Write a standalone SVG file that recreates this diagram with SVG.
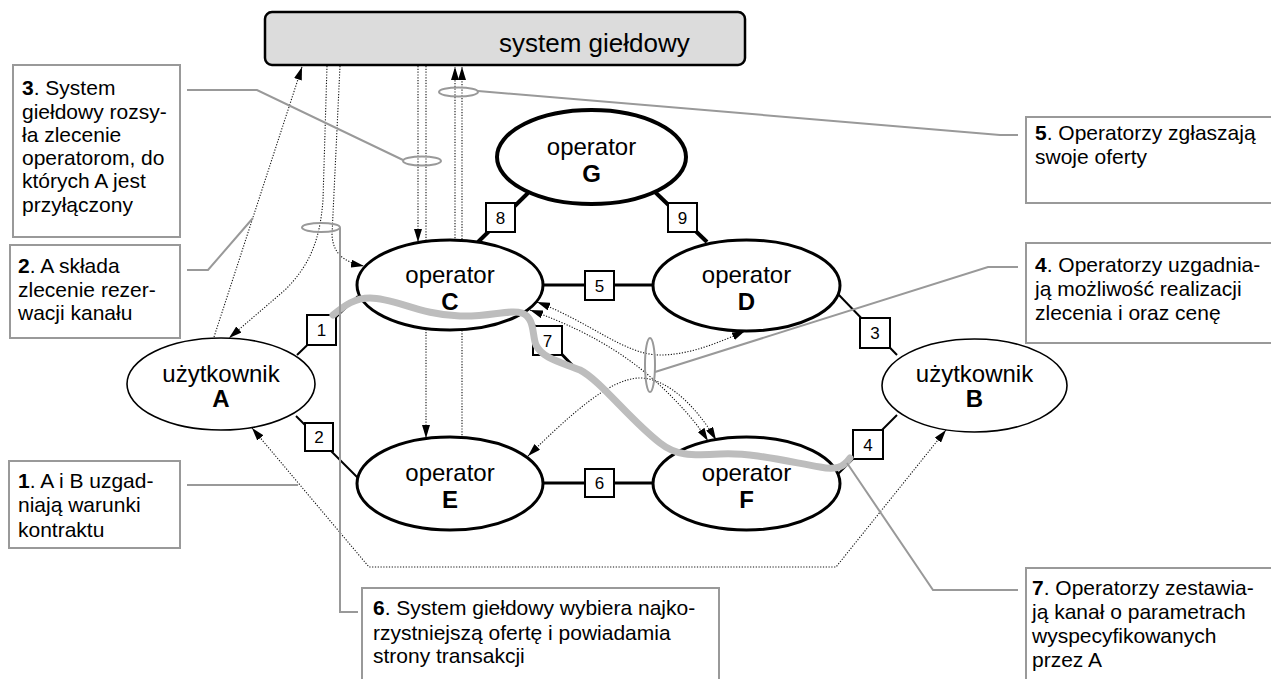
<svg xmlns="http://www.w3.org/2000/svg" width="1271" height="679" viewBox="0 0 1271 679">
  <defs>
    <marker id="ah" viewBox="0 0 13 8" refX="13" refY="4" markerWidth="13" markerHeight="8" markerUnits="userSpaceOnUse" orient="auto-start-reverse">
      <path d="M0,0 L13,4 L0,8 z" fill="#000"/>
    </marker>
    <style>
      .dot { fill: none; stroke: #111; stroke-width: 1.1; stroke-dasharray: 1.2 1.6; }
      .edge { stroke: #000; fill: none; }
      .thin { stroke-width: 2; }
      .mid { stroke-width: 3; }
      .thick { stroke-width: 4; }
      .lbl { fill: #fff; stroke: #000; stroke-width: 2; }
      .num { font-family: "Liberation Sans Narrow", "Liberation Sans", Arial, sans-serif; font-size: 17px; text-anchor: middle; fill: #000; }
      .node { fill: #fff; stroke: #000; }
      .ntxt { font-family: "Liberation Sans", Arial, sans-serif; font-size: 24px; text-anchor: middle; fill: #000; }
      .b { font-weight: bold; }
      .call { fill: none; stroke: #999; stroke-width: 2; }
      .cbox { fill: #fff; stroke: #999; stroke-width: 2; }
      .ctxt { font-family: "Liberation Sans", Arial, sans-serif; font-size: 21px; fill: #000; }
      .channel { fill: none; stroke: #bdbdbd; stroke-width: 7; stroke-linecap: round; stroke-linejoin: round; }
    </style>
  </defs>

  <rect width="1271" height="679" fill="#fff"/>

  <!-- exchange system bar -->
  <g id="system">
    <rect x="265" y="12" width="480" height="53" rx="7" fill="#dcdcdc" stroke="#000" stroke-width="2.5"/>
    <text x="499" y="52" font-family="Liberation Sans, Arial, sans-serif" font-size="26">system giełdowy</text>
  </g>

  <!-- connectors: signalling (dotted) and links (solid) -->
  <g id="connectors">
    <!-- 2: order from A to the system -->
    <path class="dot" d="M214,337 L302,67" marker-end="url(#ah)"/>
    <!-- 3: system broadcasts -->
    <path class="dot" d="M327,66 L323,200 C320,240 310,265 285,290 L229,338" marker-end="url(#ah)"/>
    <path class="dot" d="M340,66 L332,235 C333,252 342,262 364,266" marker-end="url(#ah)"/>
    <path class="dot" d="M418,66 L418,242" marker-end="url(#ah)"/>
    <path class="dot" d="M426,66 L426,438" marker-end="url(#ah)"/>
    <!-- 5: offers back to the system -->
    <path class="dot" d="M455,241 L455,67" marker-end="url(#ah)"/>
    <path class="dot" d="M462,438 L462,67" marker-end="url(#ah)"/>
    <!-- 4: operators negotiate -->
    <path class="dot" d="M537,302 C590,322 625,355 660,355 C690,355 720,342 745,331" marker-start="url(#ah)" marker-end="url(#ah)"/>
    <path class="dot" d="M530,310 C600,335 640,365 670,395 C685,410 698,425 708,441" marker-start="url(#ah)" marker-end="url(#ah)"/>
    <path class="dot" d="M528,456 C570,415 610,378 640,378 C670,378 700,412 716,440" marker-start="url(#ah)" marker-end="url(#ah)"/>
    <!-- 1: contract between A and B -->
    <path class="dot" d="M252,428 L369,567 L836,567 L946,430" marker-start="url(#ah)" marker-end="url(#ah)"/>

    <!-- physical links -->
    <line class="edge thin" x1="297" y1="355" x2="358" y2="296"/>
    <line class="edge thin" x1="296" y1="416" x2="358" y2="478"/>
    <line class="edge thin" x1="838" y1="294" x2="897" y2="355"/>
    <line class="edge thin" x1="897" y1="415" x2="837" y2="475"/>
    <line class="edge mid" x1="543" y1="285" x2="653" y2="285"/>
    <line class="edge mid" x1="543" y1="483" x2="653" y2="483"/>
    <line class="edge thick" x1="528" y1="193" x2="478" y2="242"/>
    <line class="edge thick" x1="655" y1="192" x2="707" y2="242"/>
    <line class="edge mid" x1="522" y1="313" x2="575" y2="368"/>

    <!-- link labels -->
    <rect class="lbl" x="307" y="315" width="29" height="30"/><text class="num" x="321.5" y="336">1</text>
    <rect class="lbl" x="305" y="423" width="28" height="28"/><text class="num" x="319" y="443">2</text>
    <rect class="lbl" x="860" y="318" width="30" height="30"/><text class="num" x="875" y="339">3</text>
    <rect class="lbl" x="853" y="430" width="30" height="29"/><text class="num" x="868" y="450.5">4</text>
    <rect class="lbl" x="585" y="271" width="29" height="29"/><text class="num" x="599.5" y="291.5">5</text>
    <rect class="lbl" x="585" y="469" width="29" height="28"/><text class="num" x="599.5" y="489">6</text>
    <rect class="lbl" x="533" y="326" width="29" height="29"/><text class="num" x="547.5" y="346.5">7</text>
    <rect class="lbl" x="486" y="203" width="29" height="29"/><text class="num" x="500.5" y="223.5">8</text>
    <rect class="lbl" x="668" y="203" width="29" height="29"/><text class="num" x="682.5" y="223.5">9</text>
  </g>

  <!-- nodes -->
  <g id="operator-G">
    <ellipse class="node" cx="591.5" cy="157" rx="94.5" ry="47" stroke-width="4"/>
    <text class="ntxt" x="591.5" y="155">operator</text>
    <text class="ntxt b" x="591.5" y="182">G</text>
  </g>
  <g id="operator-C">
    <ellipse class="node" cx="450" cy="285" rx="93" ry="45" stroke-width="3"/>
    <text class="ntxt" x="450" y="283">operator</text>
    <text class="ntxt b" x="450" y="310">C</text>
  </g>
  <g id="operator-D">
    <ellipse class="node" cx="746.5" cy="285.5" rx="93.5" ry="45.5" stroke-width="3"/>
    <text class="ntxt" x="746.5" y="283">operator</text>
    <text class="ntxt b" x="746.5" y="310">D</text>
  </g>
  <g id="operator-E">
    <ellipse class="node" cx="450" cy="483.5" rx="93" ry="46.5" stroke-width="3"/>
    <text class="ntxt" x="450" y="481">operator</text>
    <text class="ntxt b" x="450" y="508">E</text>
  </g>
  <g id="operator-F">
    <ellipse class="node" cx="746.5" cy="483.5" rx="93.5" ry="46.5" stroke-width="3"/>
    <text class="ntxt" x="746.5" y="481">operator</text>
    <text class="ntxt b" x="746.5" y="508">F</text>
  </g>
  <g id="user-A">
    <ellipse class="node" cx="221" cy="384" rx="94" ry="46" stroke-width="1.6"/>
    <text class="ntxt" x="221" y="382">użytkownik</text>
    <text class="ntxt b" x="221" y="407">A</text>
  </g>
  <g id="user-B">
    <ellipse class="node" cx="974.5" cy="385.5" rx="92.5" ry="46.5" stroke-width="1.6"/>
    <text class="ntxt" x="974.5" y="382">użytkownik</text>
    <text class="ntxt b" x="974.5" y="407">B</text>
  </g>

  <!-- reserved channel A to B -->
  <g id="channel">
    <path class="channel" d="M333,315 C345,305 355,298 370,298 C395,298 420,315 460,316 C490,317 510,309 522,313 C535,318 532,335 536,345 C542,358 560,362 580,370 C600,380 630,420 660,443 C675,455 690,456 720,454 C750,452 790,462 820,467 C835,470 843,468 850,458"/>
  </g>

  <!-- step descriptions -->
  <g id="note-1">
    <line class="call" x1="187" y1="485" x2="298" y2="485"/>
    <rect class="cbox" x="9" y="461" width="171" height="87"/>
    <text class="ctxt" x="18" y="488"><tspan class="b">1</tspan>. A i B uzgad-</text>
    <text class="ctxt" x="18" y="512">niają warunki</text>
    <text class="ctxt" x="18" y="537">kontraktu</text>
  </g>
  <g id="note-2">
    <polyline class="call" points="187,270 208,270 253,218"/>
    <rect class="cbox" x="10" y="245" width="170" height="93"/>
    <text class="ctxt" x="18" y="273"><tspan class="b">2</tspan>. A składa</text>
    <text class="ctxt" x="18" y="297">zlecenie rezer-</text>
    <text class="ctxt" x="18" y="320">wacji kanału</text>
  </g>
  <g id="note-3">
    <polyline class="call" points="187,90 257,90 403,160"/>
    <ellipse class="call" cx="422" cy="161" rx="19" ry="4.5"/>
    <rect class="cbox" x="13" y="65" width="167" height="172"/>
    <text class="ctxt" x="22" y="95"><tspan class="b">3</tspan>. System</text>
    <text class="ctxt" x="22" y="119">giełdowy rozsy-</text>
    <text class="ctxt" x="22" y="142">ła zlecenie</text>
    <text class="ctxt" x="22" y="165">operatorom, do</text>
    <text class="ctxt" x="22" y="188">których A jest</text>
    <text class="ctxt" x="22" y="212">przyłączony</text>
  </g>
  <g id="note-4">
    <ellipse class="call" cx="650" cy="365" rx="5" ry="27"/>
    <polyline class="call" points="655,372 988,267 1018,267"/>
    <rect class="cbox" x="1026" y="243" width="260" height="100"/>
    <text class="ctxt" x="1035" y="272"><tspan class="b">4</tspan>. Operatorzy uzgadnia-</text>
    <text class="ctxt" x="1035" y="296">ją możliwość realizacji</text>
    <text class="ctxt" x="1035" y="320">zlecenia i oraz cenę</text>
  </g>
  <g id="note-5">
    <ellipse class="call" cx="458.5" cy="92" rx="19.5" ry="4.5"/>
    <polyline class="call" points="478,91 1000,135 1018,135"/>
    <rect class="cbox" x="1026" y="117" width="260" height="86"/>
    <text class="ctxt" x="1035" y="140"><tspan class="b">5</tspan>. Operatorzy zgłaszają</text>
    <text class="ctxt" x="1035" y="164">swoje oferty</text>
  </g>
  <g id="note-6">
    <ellipse class="call" cx="321" cy="227.5" rx="19" ry="4.5"/>
    <polyline class="call" points="340,228 340,612 358,612"/>
    <rect class="cbox" x="362" y="588" width="357" height="110"/>
    <text class="ctxt" x="373" y="615"><tspan class="b">6</tspan>. System giełdowy wybiera najko-</text>
    <text class="ctxt" x="373" y="640">rzystniejszą ofertę i powiadamia</text>
    <text class="ctxt" x="373" y="663">strony transakcji</text>
  </g>
  <g id="note-7">
    <polyline class="call" points="847,463 933,590 1018,590"/>
    <rect class="cbox" x="1026" y="568" width="260" height="130"/>
    <text class="ctxt" x="1032" y="595"><tspan class="b">7</tspan>. Operatorzy zestawia-</text>
    <text class="ctxt" x="1032" y="619">ją kanał o parametrach</text>
    <text class="ctxt" x="1032" y="643">wyspecyfikowanych</text>
    <text class="ctxt" x="1032" y="667">przez A</text>
  </g>
</svg>
